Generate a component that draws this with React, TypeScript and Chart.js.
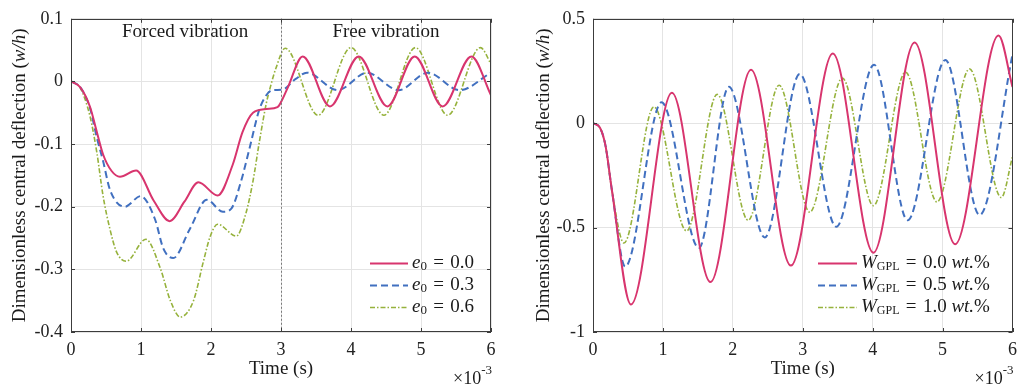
import React, { useEffect, useRef } from 'react';
import { Chart, registerables } from 'chart.js';
Chart.register(...registerables);

const FONT = '"Liberation Serif", "DejaVu Serif", serif';
const RED = '#D8356E';
const BLUE = '#4170C0';
const GREEN = '#96B23C';

// ---------- shared axis ticks ----------
const xTicks = [0, 1, 2, 3, 4, 5, 6];
const xTickLabels = ['0', '1', '2', '3', '4', '5', '6'];

// ---------- left panel (eccentricity e0) ----------
const leftYTicks = [-0.4, -0.3, -0.2, -0.1, 0, 0.1];
const leftYTickLabels = ['-0.4', '-0.3', '-0.2', '-0.1', '0', '0.1'];
const leftLegend = ['0.0', '0.3', '0.6'];

const e00X = [0, 0.13, 0.27, 0.37, 0.46, 0.58, 0.7, 0.93, 1.18, 1.41, 1.62, 1.82, 2.095, 2.31, 2.45, 2.6, 2.79, 2.95, 3.0, 3.1, 3.31, 3.7, 4.11, 4.52, 4.91, 5.31, 5.72, 6.0];
const e00Y = [0, -0.009, -0.04, -0.081, -0.117, -0.143, -0.152, -0.142, -0.19, -0.223, -0.192, -0.161, -0.182, -0.133, -0.081, -0.05, -0.044, -0.041, -0.033, -0.009, 0.04, -0.04, 0.04, -0.04, 0.04, -0.04, 0.04, -0.022];

const e03X = [0, 0.13, 0.27, 0.37, 0.46, 0.56, 0.77, 0.995, 1.2, 1.32, 1.46, 1.7, 1.94, 2.17, 2.29, 2.43, 2.55, 2.69, 2.79, 2.88, 3.02, 3.21, 3.37, 3.81, 4.23, 4.68, 5.1, 5.55, 6.0];
const e03Y = [0, -0.009, -0.042, -0.09, -0.128, -0.174, -0.2, -0.183, -0.22, -0.267, -0.282, -0.235, -0.189, -0.208, -0.203, -0.159, -0.107, -0.045, -0.022, -0.014, -0.013, 0.004, 0.014, -0.014, 0.014, -0.014, 0.014, -0.014, 0.014];

const e06X = [0, 0.13, 0.27, 0.367, 0.46, 0.557, 0.65, 0.79, 1.07, 1.275, 1.42, 1.56, 1.75, 1.89, 1.99, 2.095, 2.36, 2.5, 2.6, 2.69, 2.79, 2.86, 2.93, 3.06, 3.53, 4.0, 4.47, 4.92, 5.38, 5.85, 6.0];
const e06Y = [0, -0.01, -0.055, -0.112, -0.184, -0.236, -0.272, -0.287, -0.252, -0.298, -0.35, -0.376, -0.35, -0.288, -0.247, -0.228, -0.247, -0.21, -0.159, -0.097, -0.035, -0.004, 0.022, 0.053, -0.054, 0.054, -0.054, 0.054, -0.054, 0.054, 0.028];

// ---------- right panel (GPL weight fraction) ----------
const rightYTicks = [-1, -0.5, 0, 0.5];
const rightYTickLabels = ['-1', '-0.5', '0', '0.5'];
const rightLegend = ['0.0', '0.5', '1.0'];

const w00X = [0, 0.1, 0.18, 0.27, 0.543, 1.129, 1.68, 2.26, 2.83, 3.43, 4.01, 4.6, 5.18, 5.8, 6.0];
const w00Y = [0, -0.022, -0.11, -0.32, -0.868, 0.146, -0.761, 0.256, -0.682, 0.334, -0.62, 0.387, -0.58, 0.42, 0.174];

const w05X = [0, 0.1, 0.18, 0.27, 0.46, 0.98, 1.514, 1.943, 2.457, 2.957, 3.48, 4.02, 4.5, 5.04, 5.53, 6.0];
const w05Y = [0, -0.022, -0.11, -0.32, -0.687, 0.1, -0.598, 0.174, -0.547, 0.236, -0.496, 0.28, -0.465, 0.303, -0.44, 0.329];

const w10X = [0, 0.1, 0.18, 0.27, 0.443, 0.871, 1.338, 1.776, 2.219, 2.662, 3.1, 3.567, 4.01, 4.47, 4.92, 5.386, 5.84, 6.0];
const w10Y = [0, -0.022, -0.11, -0.32, -0.574, 0.078, -0.516, 0.138, -0.465, 0.182, -0.426, 0.216, -0.395, 0.244, -0.377, 0.26, -0.356, -0.16];

const pts = (xs: number[], ys: number[]) => xs.map((x, i) => ({ x, y: ys[i] }));

type Run = { t: string; italic?: boolean; size?: number; dy?: number };

function drawRuns(ctx: CanvasRenderingContext2D, runs: Run[], x: number, y: number, align: 'left' | 'center' | 'right', base = 16) {
  const fontOf = (r: Run) => `${r.italic ? 'italic ' : ''}${r.size ?? base}px ${FONT}`;
  let total = 0;
  for (const r of runs) { ctx.font = fontOf(r); total += ctx.measureText(r.t).width; }
  let cx = align === 'left' ? x : align === 'center' ? x - total / 2 : x - total;
  ctx.textAlign = 'left';
  ctx.textBaseline = 'middle';
  for (const r of runs) {
    ctx.font = fontOf(r);
    ctx.fillText(r.t, cx, y + (r.dy ?? 0));
    cx += ctx.measureText(r.t).width;
  }
}

type Decor = {
  yTitleX: number;
  dividerAt?: number;
  notes?: { text: string; x: number }[];
  legendLineX0: number;
  legendLineX1: number;
  legendRows: number[];
  legendRuns: Run[][];
};

const EQ = '\u2004=\u2004';

function makeDecor(d: Decor) {
  return {
    id: 'decor',
    afterDraw(chart: any) {
      const ctx: CanvasRenderingContext2D = chart.ctx;
      const a = chart.chartArea;
      const xs = chart.scales.x;
      const ys = chart.scales.y;
      ctx.save();
      // divider
      if (d.dividerAt !== undefined) {
        const px = Math.round(xs.getPixelForValue(d.dividerAt)) + 0.5;
        ctx.strokeStyle = '#7a7a7a';
        ctx.lineWidth = 1;
        ctx.setLineDash([2, 2]);
        ctx.beginPath();
        ctx.moveTo(px, a.top);
        ctx.lineTo(px, a.bottom);
        ctx.stroke();
        ctx.setLineDash([]);
      }
      // box
      ctx.strokeStyle = '#3c3c3c';
      ctx.lineWidth = 1;
      ctx.strokeRect(Math.round(a.left) + 0.5, Math.round(a.top) + 0.5, Math.round(a.right - a.left) - 1, Math.round(a.bottom - a.top) - 1);
      // inward ticks
      const tl = 4;
      ctx.beginPath();
      for (const t of xs.ticks) {
        const px = Math.round(xs.getPixelForValue(t.value)) + 0.5;
        ctx.moveTo(px, a.bottom); ctx.lineTo(px, a.bottom - tl);
        ctx.moveTo(px, a.top); ctx.lineTo(px, a.top + tl);
      }
      for (const t of ys.ticks) {
        const py = Math.round(ys.getPixelForValue(t.value)) + 0.5;
        ctx.moveTo(a.left, py); ctx.lineTo(a.left + tl, py);
        ctx.moveTo(a.right, py); ctx.lineTo(a.right - tl, py);
      }
      ctx.stroke();
      ctx.fillStyle = '#1a1a1a';
      // notes
      for (const n of d.notes ?? []) {
        drawRuns(ctx, [{ t: n.text }], xs.getPixelForValue(n.x), a.top + 13, 'center', 19);
      }
      // legend
      chart.data.datasets.forEach((ds: any, i: number) => {
        const ry = d.legendRows[i];
        ctx.strokeStyle = ds.borderColor;
        ctx.lineWidth = ds.borderWidth;
        ctx.setLineDash(ds.borderDash || []);
        ctx.beginPath();
        ctx.moveTo(d.legendLineX0, ry + 0.5);
        ctx.lineTo(d.legendLineX1, ry + 0.5);
        ctx.stroke();
        ctx.setLineDash([]);
        ctx.fillStyle = '#1a1a1a';
        drawRuns(ctx, d.legendRuns[i], d.legendLineX1 + 4, ry, 'left', 19);
      });
      // x title
      const cxm = (a.left + a.right) / 2;
      drawRuns(ctx, [{ t: 'Time (s)' }], cxm, 369, 'center', 19);
      // exponent
      drawRuns(ctx, [{ t: '\u00d710', size: 18 }, { t: '-3', size: 13, dy: -8 }], a.right + 1, 379, 'right', 18);
      // y title
      ctx.save();
      ctx.translate(d.yTitleX, (a.top + a.bottom) / 2);
      ctx.rotate(-Math.PI / 2);
      drawRuns(ctx, [{ t: 'Dimensionless central deflection (' }, { t: 'w/h', italic: true }, { t: ')' }], 0, 0, 'center', 19);
      ctx.restore();
      ctx.restore();
    },
  };
}

function makeConfig(opts: {
  datasets: any[];
  yMin: number; yMax: number;
  yTicks: number[]; yLabels: string[];
  yWidth: number; padRight: number;
  decor: Decor;
}) {
  const tickFont = { family: FONT, size: 18 };
  return {
    type: 'line',
    data: { datasets: opts.datasets },
    options: {
      animation: false,
      responsive: false,
      devicePixelRatio: 1,
      layout: { padding: { top: 10, right: opts.padRight, left: 0, bottom: 0 } },
      plugins: { legend: { display: false }, tooltip: { enabled: false } },
      elements: { point: { radius: 0 }, line: { cubicInterpolationMode: 'monotone' } },
      scales: {
        x: {
          type: 'linear', min: 0, max: 6,
          afterBuildTicks: (s: any) => { s.ticks = xTicks.map((v) => ({ value: v })); },
          afterFit: (s: any) => { s.height = 54; },
          grid: { color: '#e4e4e4', drawTicks: false },
          border: { display: false },
          ticks: { padding: 7, color: '#222', font: tickFont, maxRotation: 0, autoSkip: false, callback: (_v: any, i: number) => xTickLabels[i] },
        },
        y: {
          type: 'linear', min: opts.yMin, max: opts.yMax,
          afterBuildTicks: (s: any) => { s.ticks = opts.yTicks.map((v) => ({ value: v })); },
          afterFit: (s: any) => { s.width = opts.yWidth; },
          grid: { color: '#e4e4e4', drawTicks: false },
          border: { display: false },
          ticks: { padding: 8, color: '#222', font: tickFont, autoSkip: false, callback: (_v: any, i: number) => opts.yLabels[i] },
        },
      },
    },
    plugins: [makeDecor(opts.decor)],
  };
}

const lineStyles = [
  { borderColor: RED, borderWidth: 2, borderDash: [] as number[] },
  { borderColor: BLUE, borderWidth: 2, borderDash: [7, 4] },
  { borderColor: GREEN, borderWidth: 1.6, borderDash: [5, 2, 1.5, 2] },
];

function Panel({ left, config }: { left: number; config: any }) {
  const ref = useRef<HTMLCanvasElement>(null);
  useEffect(() => {
    if (!ref.current) return;
    const chart = new Chart(ref.current, config);
    return () => chart.destroy();
  }, []);
  return (
    <canvas ref={ref} width={512} height={386}
      style={{ position: 'absolute', left, top: 0, width: 512, height: 386 }} />
  );
}

export default function App() {
  const leftConfig = makeConfig({
    datasets: [
      { data: pts(e00X, e00Y), ...lineStyles[0] },
      { data: pts(e03X, e03Y), ...lineStyles[1] },
      { data: pts(e06X, e06Y), ...lineStyles[2] },
    ],
    yMin: -0.4, yMax: 0.1, yTicks: leftYTicks, yLabels: leftYTickLabels,
    yWidth: 71, padRight: 21,
    decor: {
      yTitleX: 20,
      dividerAt: 3,
      notes: [{ text: 'Forced vibration', x: 1.63 }, { text: 'Free vibration', x: 4.5 }],
      legendLineX0: 370, legendLineX1: 408,
      legendRows: [263, 285, 307],
      legendRuns: leftLegend.map((v) => [
        { t: 'e', italic: true },
        { t: '0', size: 13, dy: 4 },
        { t: EQ + v },
      ]),
    },
  });
  const rightConfig = makeConfig({
    datasets: [
      { data: pts(w00X, w00Y), ...lineStyles[0] },
      { data: pts(w05X, w05Y), ...lineStyles[1] },
      { data: pts(w10X, w10Y), ...lineStyles[2] },
    ],
    yMin: -1, yMax: 0.5, yTicks: rightYTicks, yLabels: rightYTickLabels,
    yWidth: 81, padRight: 11,
    decor: {
      yTitleX: 32,
      legendLineX0: 306, legendLineX1: 345,
      legendRows: [263, 285, 307],
      legendRuns: rightLegend.map((v) => [
        { t: 'W', italic: true },
        { t: 'GPL', size: 12, dy: 4 },
        { t: EQ + v + ' ' },
        { t: 'wt.', italic: true },
        { t: '%' },
      ]),
    },
  });
  return (
    <div style={{ position: 'fixed', left: 0, top: 0, width: 1024, height: 386, background: '#fff' }}>
      <Panel left={0} config={leftConfig} />
      <Panel left={512} config={rightConfig} />
    </div>
  );
}
